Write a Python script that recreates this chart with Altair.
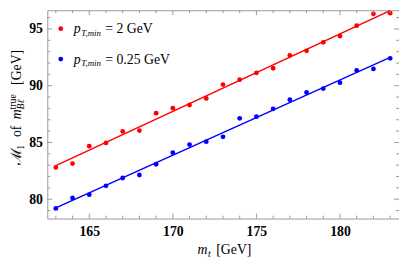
import altair as alt
import pandas as pd

# ---- data ----
mt = [163, 164, 165, 166, 167, 168, 169, 170, 171, 172, 173,
      174, 175, 176, 177, 178, 179, 180, 181, 182, 183]
red_vals = [82.80, 83.14, 84.67, 84.96, 85.97, 86.05, 87.58, 88.02, 88.30, 88.88, 90.10,
            90.53, 91.13, 91.54, 92.67, 93.07, 93.82, 94.37, 95.29, 96.33, 96.39]
blue_vals = [79.19, 80.11, 80.40, 81.18, 81.87, 82.13, 83.08, 84.10, 84.81, 85.07, 85.50,
             87.13, 87.27, 87.96, 88.77, 89.40, 89.75, 90.27, 91.34, 91.48, 92.41]
series_names = ["pt2", "pt025"]
series_colors = ["#ff0000", "#0000ff"]

x_major = [165, 170, 175, 180]
x_minor = list(range(163, 184))
y_major = [80, 85, 90, 95]
y_minor = list(range(79, 97))

X_DOMAIN = [162.49, 183.53]
Y_DOMAIN = [78.295, 96.645]
W, H = 358, 212
FONT = "Liberation Serif"
FRAME = "#999999"

df = pd.DataFrame({
    "mt": mt * 2,
    "val": red_vals + blue_vals,
    "series": [series_names[0]] * len(mt) + [series_names[1]] * len(mt),
})

xs = alt.Scale(domain=X_DOMAIN, nice=False, zero=False)
ys = alt.Scale(domain=Y_DOMAIN, nice=False, zero=False)
cs = alt.Scale(domain=series_names, range=series_colors)

x_axis = alt.Axis(
    values=x_major, format="d", ticks=False, domain=False, grid=False,
    labelFont=FONT, labelFontWeight="bold", labelFontSize=14, labelColor="black",
    labelPadding=6, title=None)
y_axis = alt.Axis(
    values=y_major, format="d", ticks=False, domain=False, grid=False,
    labelFont=FONT, labelFontWeight="bold", labelFontSize=14, labelColor="black",
    labelPadding=5, title=None)

base = alt.Chart(df)

points = base.mark_circle(size=24, opacity=1).encode(
    x=alt.X("mt:Q", scale=xs, axis=x_axis),
    y=alt.Y("val:Q", scale=ys, axis=y_axis),
    color=alt.Color("series:N", scale=cs, legend=None),
)

lines = base.transform_regression(
    "mt", "val", groupby=["series"], extent=[163, 183]
).mark_line(strokeWidth=1.5).encode(
    x=alt.X("mt:Q", scale=xs, axis=x_axis),
    y=alt.Y("val:Q", scale=ys, axis=y_axis),
    color=alt.Color("series:N", scale=cs, legend=None),
)


def xticks(vals, length):
    d = pd.DataFrame({"t": vals})
    c = alt.Chart(d)
    bot = c.mark_rule(color=FRAME, strokeWidth=1).encode(
        x=alt.X("t:Q", scale=xs, axis=x_axis), y=alt.value(H), y2=alt.value(H - length))
    top = c.mark_rule(color=FRAME, strokeWidth=1).encode(
        x=alt.X("t:Q", scale=xs, axis=x_axis), y=alt.value(0), y2=alt.value(length))
    return [bot, top]


def yticks(vals, length):
    d = pd.DataFrame({"t": vals})
    c = alt.Chart(d)
    left = c.mark_rule(color=FRAME, strokeWidth=1).encode(
        y=alt.Y("t:Q", scale=ys, axis=y_axis), x=alt.value(0), x2=alt.value(length))
    right = c.mark_rule(color=FRAME, strokeWidth=1).encode(
        y=alt.Y("t:Q", scale=ys, axis=y_axis), x=alt.value(W), x2=alt.value(W - length))
    return [left, right]


tick_layers = (xticks([v for v in x_minor if v not in x_major], 3) + xticks(x_major, 5)
               + yticks([v for v in y_minor if v not in y_major], 3) + yticks(y_major, 5))

dummy = pd.DataFrame({"a": [0]})


def txt(text, x, y, size=14, style="normal", angle=0, weight="normal", font=FONT):
    return alt.Chart(dummy).mark_text(
        text=text, font=font, fontSize=size, fontStyle=style, fontWeight=weight,
        angle=angle, align="left", baseline="alphabetic", color="black"
    ).encode(x=alt.value(x), y=alt.value(y))


def dot(color, x, y):
    return alt.Chart(dummy).mark_circle(size=24, opacity=1, color=color).encode(
        x=alt.value(x), y=alt.value(y))


# legend
legend_layers = []
for i, (col, label) in enumerate([(series_colors[0], "= 2 GeV"), (series_colors[1], "= 0.25 GeV")]):
    cy = 18.7 + 31 * i
    legend_layers += [
        dot(col, 13.7, cy),
        txt("p", 27, cy + 4.5, 14, "italic"),
        txt("T,min", 34.5, cy + 7.5, 9, "italic"),
        txt(label, 59, cy + 4.5, 14),
    ]

# x title
xtitle = [
    txt("m", 153, 248, 14, "italic"),
    txt("t", 163.5, 251, 10, "italic"),
    txt("[GeV]", 172, 248, 14),
]

# y title (rotated, reading bottom to top)
bx = -27
ytitle = [
    txt("ℳ", bx, 157, 15, "normal", 270, font="DejaVu Serif"),
    txt("1", bx + 3, 142, 10, "normal", 270),
    txt("of", bx, 129, 14, "normal", 270),
    txt("m", bx, 111, 14, "italic", 270),
    txt("Bℓ", bx + 3, 101, 10, "italic", 270),
    txt("true", bx - 5, 101, 10, "normal", 270),
    txt("[GeV]", bx, 76, 14, "normal", 270),
]

chart = alt.layer(
    lines, points, *tick_layers, *legend_layers, *xtitle, *ytitle
).properties(
    width=W, height=H,
    autosize=alt.AutoSizeParams(type="none"),
    padding={"left": 40, "top": 0, "right": 0, "bottom": 48},
).configure_view(stroke=FRAME, strokeWidth=1)

chart.save("out.html", embed_options={"renderer": "svg", "actions": False})
